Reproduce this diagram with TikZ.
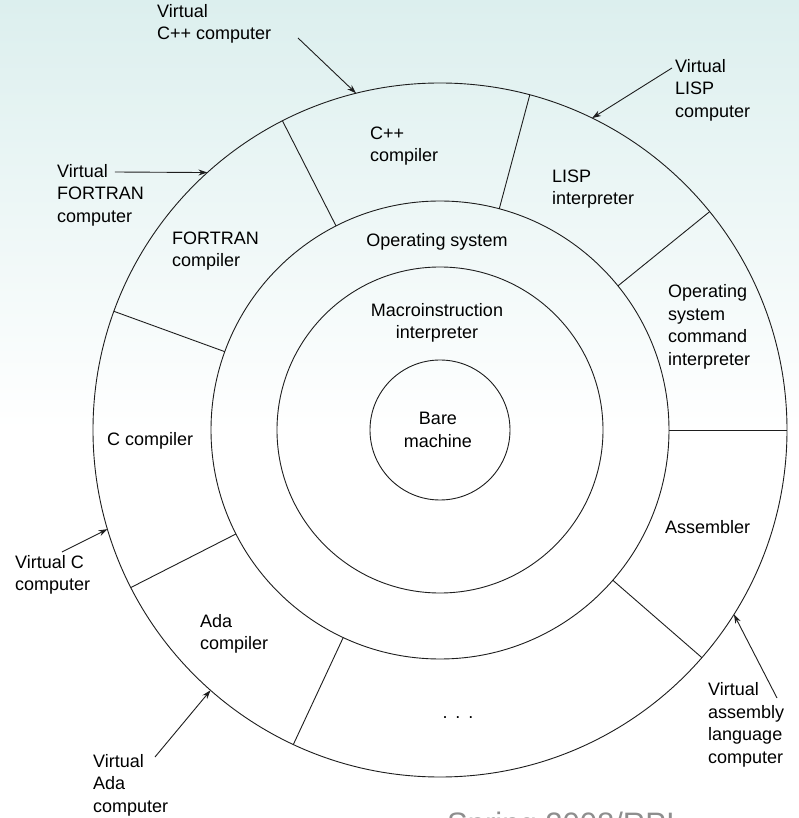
\documentclass[tikz,border=0pt]{standalone}
\usepackage{fontspec}
\setmainfont{Liberation Sans}
\usepackage{xcolor}
\usetikzlibrary{arrows.meta}
\definecolor{ink}{HTML}{1E1E1E}
\definecolor{wash}{HTML}{DCEFEE}
\definecolor{slidegray}{HTML}{8E8E8E}

\begin{document}
\begin{tikzpicture}[
  x=1pt, y=1pt,
  font=\fontsize{18}{22.5}\selectfont,
  ring/.style={draw=ink, line width=0.9pt},
  divider/.style={draw=ink, line width=0.9pt},
  tag/.style={align=left, anchor=west, inner sep=0pt},
  centre/.style={align=center, inner sep=0pt},
  pointer/.style={draw=ink, line width=0.9pt, -{Stealth[length=9pt,width=6pt]}}
]
% page and slide background
\useasboundingbox (-440,-388) rectangle (359,430);
\fill[white] (-440,-388) rectangle (359,430);
\shade[top color=wash, bottom color=white] (-440,0) rectangle (359,430);

% rings and the cuts of the outer ring
\foreach \r in {70,163,229,347}
  \draw[ring] (0,0) circle (\r);
\foreach \a in {117,75,39,0,-41,245,207,160}
  \draw[divider] (\a:229) -- (\a:347);

% layers
\node[centre] (bare) at (-2,0) {Bare\\machine};
\node[centre] (macro) at (-3,107) {Macroinstruction\\interpreter};
\node[centre] (os) at (-3,188) {Operating system};

% outer ring
\node[tag] (cppc) at (-70,284) {C++\\compiler};
\node[tag] (lisp) at (112,241) {LISP\\interpreter};
\node[tag] (fortranc) at (-268,179) {FORTRAN\\compiler};
\node[tag] (oscmd) at (228,103) {Operating\\system\\command\\interpreter};
\node[tag] (cc) at (-333,-11) {C compiler};
\node[tag] (asm) at (225,-97) {Assembler};
\node[tag] (adac) at (-240,-204) {Ada\\compiler};
\node[centre] (more) at (18,-288) {.\hspace{8pt}.\hspace{8pt}.};

% virtual machines
\node[tag] (vcpp) at (-283,406) {Virtual\\C++ computer};
\node[tag] (vlisp) at (235,340) {Virtual\\LISP\\computer};
\node[tag] (vfortran) at (-383,235) {Virtual\\FORTRAN\\computer};
\node[tag] (vc) at (-425,-145) {Virtual C\\computer};
\node[tag] (vada) at (-347,-355) {Virtual\\Ada\\computer};
\node[tag] (vasm) at (268,-295) {Virtual\\assembly\\language\\computer};

\coordinate (tcpp) at (-142,392);
\coordinate (tlisp) at (232,362);
\coordinate (tfortran) at (-325,258);
\coordinate (tc) at (-378,-122);
\coordinate (tada) at (-285,-327);
\coordinate (tasm) at (337,-268);

\coordinate (hcpp) at (104:347);
\coordinate (hlisp) at (64:347);
\coordinate (hfortran) at (132.1:347);
\coordinate (hc) at (196.6:347);
\coordinate (hada) at (228.6:347);
\coordinate (hasm) at (-32.1:347);

\draw[pointer] (tcpp) -- (hcpp);
\draw[pointer] (tlisp) -- (hlisp);
\draw[pointer] (tfortran) -- (hfortran);
\draw[pointer] (tc) -- (hc);
\draw[pointer] (tada) -- (hada);
\draw[pointer] (tasm) -- (hasm);

% footer of the slide, cut by the page edge
\begin{scope}
  \clip (-440,-388) rectangle (359,430);
  \node[anchor=base west, inner sep=0pt, text=slidegray,
    font=\fontsize{31}{34}\selectfont] (footer) at (7,-404) {Spring 2008/RPI};
\end{scope}
\end{tikzpicture}
\end{document}
